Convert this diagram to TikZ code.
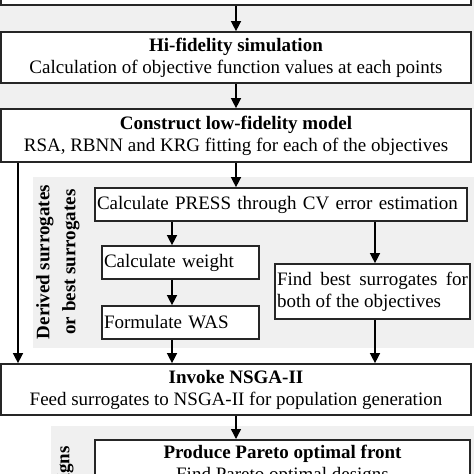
\documentclass[tikz,border=0pt]{standalone}
\usepackage{fontspec}
\setmainfont{Liberation Serif}
\usetikzlibrary{arrows.meta,shadows}
\begin{document}
\begin{tikzpicture}[x=1pt,y=-1pt,
 box/.style={draw=black!85, line width=1.7pt, fill=white, inner sep=0pt,
   font=\fontsize{19}{22}\selectfont,
   drop shadow={shadow xshift=1.2pt, shadow yshift=-1.2pt, fill=black!70, opacity=1}},
 big/.style={box, minimum width=470pt, minimum height=51pt, align=center},
 small/.style={box, align=left, inner xsep=2pt, minimum height=33pt},
 arr/.style={line width=1.4pt, -{Triangle[length=10pt,width=10pt]}},
 panelfill/.style={fill=black!6, draw=none},
 lab/.style={font=\fontsize{19}{26}\selectfont\bfseries, rotate=90, align=center, inner sep=0pt}]

\useasboundingbox (0,0) rectangle (474,474);
\clip (0,0) rectangle (474,474);

% backgrounds
\fill[panelfill] (0,0) rectangle (474,109);
\fill[panelfill] (33,177) rectangle (474,348);
\fill[panelfill] (51,426) rectangle (474,500);

% boxes
\node[big, anchor=south, minimum height=40pt] (top) at (236,6) {};
\node[big] (hifi) at (236,57.5) {\textbf{Hi-fidelity simulation}\\Calculation of objective function values at each points};
\node[big, minimum height=53pt] (con) at (236,135.5) {\textbf{Construct low-fidelity model}\\RSA, RBNN and KRG fitting for each of the objectives};
\node[small, text width=368pt] (press) at (281,204.5) {Calculate PRESS through CV error estimation};
\node[small, text width=153pt] (cw) at (180.5,262.5) {Calculate weight};
\node[small, text width=153pt] (was) at (180.5,322.5) {Formulate WAS};
\node[small, text width=191pt, align=justify, minimum height=55pt] (fb) at (372.5,291.5) {Find best surrogates for both of the objectives};
\node[big] (nsga) at (236,389.5) {\textbf{Invoke NSGA-II}\\Feed surrogates to NSGA-II for population generation};
\node[big, anchor=north, minimum width=375pt] (par) at (282.5,439) {\textbf{Produce Pareto optimal front}\\Find Pareto optimal designs};

% side labels
\node[lab] (l1) at (58,262) {Derived surrogates\\or best surrogates};
\node[lab, anchor=east] (l2) at (65,446) {Optimal designs};

% connectors
\coordinate (c0) at (18,0);
\coordinate (c1) at (172,0);
\coordinate (c2) at (375,0);
\draw[arr] (top.south) -- (hifi.north);
\draw[arr] (hifi.south) -- (con.north);
\draw[arr] (con.south) -- (con.south |- press.north);
\draw[arr] (c0 |- con.south) -- (c0 |- nsga.north);
\draw[arr] (c1 |- press.south) -- (c1 |- cw.north);
\draw[arr] (c1 |- cw.south) -- (c1 |- was.north);
\draw[arr] (c1 |- was.south) -- (c1 |- nsga.north);
\draw[arr] (c2 |- press.south) -- (c2 |- fb.north);
\draw[arr] (c2 |- fb.south) -- (c2 |- nsga.north);
\draw[arr] (nsga.south) -- (nsga.south |- par.north);
\end{tikzpicture}
\end{document}
